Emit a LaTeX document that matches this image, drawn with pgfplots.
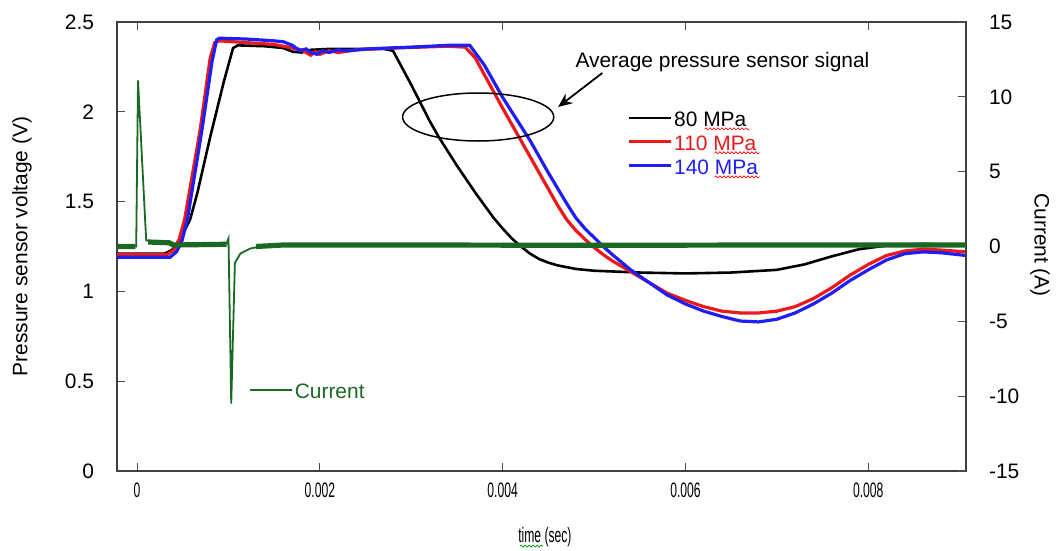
\documentclass[border=0pt]{standalone}
\usepackage{fontspec}
\setmainfont{Liberation Sans}
\usepackage{graphicx}
\usepackage{pgfplots}
\pgfplotsset{compat=1.18}
\usetikzlibrary{arrows.meta,decorations.pathmorphing}
\definecolor{cgreen}{RGB}{25,105,35}
\definecolor{pred}{RGB}{235,25,25}
\definecolor{pblue}{RGB}{30,30,245}

\pgfplotstableread{
t V
-0.00022 1.21
0.00030 1.21
0.00038 1.23
0.00045 1.27
0.00050 1.32
0.00058 1.40
0.00066 1.55
0.00080 1.86
0.00095 2.17
0.00105 2.355
0.00110 2.37
0.00140 2.365
0.00160 2.355
0.00170 2.335
0.00180 2.330
0.00190 2.345
0.00210 2.350
0.00250 2.350
0.00270 2.350
0.00280 2.34
0.00300 2.15
0.00310 2.05
0.00320 1.95
0.00330 1.86
0.00350 1.70
0.00370 1.55
0.00390 1.41
0.00400 1.35
0.00410 1.295
0.00420 1.25
0.00430 1.21
0.00440 1.18
0.00450 1.16
0.00460 1.145
0.00480 1.125
0.00500 1.115
0.00550 1.105
0.00600 1.10
0.00650 1.105
0.00700 1.12
0.00730 1.15
0.00760 1.195
0.00790 1.235
0.00820 1.255
0.00860 1.265
0.00907 1.255
}\blackdata

\pgfplotstableread{
t V
-0.00022 1.205
0.00033 1.205
0.00040 1.23
0.00046 1.29
0.00052 1.40
0.00069 1.90
0.00080 2.30
0.00085 2.385
0.00090 2.395
0.00120 2.385
0.00150 2.375
0.00170 2.355
0.00180 2.345
0.00190 2.315
0.00195 2.335
0.00200 2.320
0.00210 2.340
0.00220 2.330
0.00240 2.345
0.00280 2.355
0.00340 2.365
0.00359 2.36
0.00370 2.30
0.00400 2.02
0.00430 1.75
0.00450 1.57
0.00460 1.48
0.00470 1.40
0.00480 1.34
0.00490 1.29
0.00500 1.245
0.00510 1.205
0.00520 1.17
0.00540 1.11
0.00560 1.05
0.00580 0.99
0.00600 0.95
0.00620 0.915
0.00640 0.89
0.00660 0.88
0.00680 0.88
0.00700 0.89
0.00720 0.915
0.00740 0.96
0.00760 1.02
0.00780 1.09
0.00800 1.15
0.00820 1.20
0.00840 1.225
0.00860 1.235
0.00880 1.23
0.00907 1.22
}\reddata

\pgfplotstableread{
t V
-0.00022 1.19
0.00036 1.19
0.00043 1.22
0.00049 1.28
0.00055 1.40
0.00071 1.90
0.00082 2.28
0.00087 2.40
0.00090 2.41
0.00120 2.405
0.00150 2.395
0.00160 2.39
0.00170 2.37
0.00178 2.34
0.00185 2.35
0.00190 2.33
0.00197 2.32
0.00203 2.34
0.00210 2.33
0.00220 2.345
0.00230 2.34
0.00252 2.35
0.00300 2.36
0.00340 2.37
0.00364 2.37
0.00380 2.26
0.00400 2.08
0.00430 1.84
0.00450 1.66
0.00470 1.49
0.00480 1.41
0.00490 1.35
0.00500 1.30
0.00510 1.25
0.00520 1.205
0.00540 1.12
0.00560 1.05
0.00580 0.98
0.00600 0.93
0.00620 0.89
0.00640 0.86
0.00660 0.835
0.00680 0.83
0.00700 0.845
0.00720 0.88
0.00740 0.93
0.00760 0.99
0.00780 1.06
0.00800 1.12
0.00820 1.175
0.00840 1.21
0.00860 1.22
0.00880 1.215
0.00907 1.20
}\bluedata

\pgfplotstableread{
t I
-0.00022 0.0
-0.00001 0.0
0.00001 11.1
0.000088 1.74
0.00010 0.4
0.00035 0.3
0.00040 0.1
0.00098 0.2
0.00100 0.53
0.00103 -10.5
0.00107 -1.1
0.00113 -0.47
0.00124 -0.13
0.00140 0.05
0.00160 0.1
0.00907 0.1
}\currentdata

\pgfplotstableread{
t I
-0.00022 0.0
-0.00002 0.0
nan nan
0.00012 0.3
0.00035 0.25
0.00040 0.1
0.00098 0.15
nan nan
0.00130 0.0
0.00160 0.1
0.00300 0.1
0.00500 0.08
0.00700 0.1
0.00907 0.1
}\currentband

\begin{document}
\begin{tikzpicture}[font=\fontsize{10.5}{12}\selectfont]
\useasboundingbox (-58.5bp,-40bp) rectangle (470bp,235.5bp);
\pgfplotsset{
  common/.style={
    scale only axis, width=424.5bp, height=224.5bp,
    at={(0,0)}, anchor=south west,
    xmin=-0.00022, xmax=0.00907,
    tick align=inside, major tick length=4bp,
    axis line style={line width=0.9bp, black!75},
    every tick/.style={line width=0.6bp, black!70},
    /pgf/number format/assume math mode=true,
    tick label style={font=\fontsize{10.5}{12}\selectfont},
    legend style={draw=none, fill=none, inner sep=0pt, outer sep=0pt,
      row sep=0pt, font=\fontsize{10.5}{12}\selectfont,
      nodes={inner xsep=1bp, inner ysep=1bp, text height=7.6bp, text depth=2.4bp, anchor=west}},
    legend cell align=left,
    legend image code/.code={\draw[#1] (0bp,1.6bp) -- (21bp,1.6bp);},
  }
}
\begin{axis}[common, clip=false,
  ymin=0, ymax=2.5,
  ytick={0,0.5,1,1.5,2,2.5},
  yticklabels={0,0.5,1,1.5,2,2.5},
  ytick pos=left,
  xtick={0,0.002,0.004,0.006,0.008},
  xticklabels={\scalebox{0.58}[1]{0},\scalebox{0.58}[1]{0.002},\scalebox{0.58}[1]{0.004},\scalebox{0.58}[1]{0.006},\scalebox{0.58}[1]{0.008}},
  xtick pos=both, xticklabel pos=lower,
  scaled x ticks=false,
  yticklabel style={xshift=-8bp},
  xticklabel style={yshift=-2.5bp},
  xlabel={\scalebox{0.58}[1]{time (sec)}},
  xlabel style={at={(axis description cs:0.504,-0.147)}, anchor=center},
  ylabel={Pressure sensor voltage (V)},
  ylabel style={at={(axis description cs:-0.1119,0.5)}, anchor=center},
  legend style={at={(axis description cs:0.6007,0.726)}, anchor=west},
]
\addplot[black, line width=1.3bp] table[x=t,y=V] {\blackdata};
\addlegendentry{80 MPa}
\addplot[pred, line width=1.6bp] table[x=t,y=V] {\reddata};
\addlegendentry{\textcolor{pred}{110 MPa}}
\addplot[pblue, line width=1.6bp] table[x=t,y=V] {\bluedata};
\addlegendentry{\textcolor{pblue}{140 MPa}}
\draw[black, line width=0.75bp] (axis cs:0.003732,1.971) ellipse [x radius=37.8bp, y radius=12bp];
\draw[black, line width=0.9bp, -{Stealth[length=7bp,width=6bp]}] (axis cs:0.00509,2.216) -- (axis cs:0.004607,2.027);
\node[anchor=west, inner sep=0pt] at (axis cs:0.004793,2.277) {Average pressure sensor signal};
\draw[green!60!black, line width=0.35bp, decorate, decoration={snake, amplitude=0.5bp, segment length=2bp}] (axis cs:0.00419,-0.418) -- (axis cs:0.00444,-0.418);
\draw[red, line width=0.35bp, decorate, decoration={snake, amplitude=0.5bp, segment length=2bp}] (axis cs:0.006210,1.905) -- (axis cs:0.006700,1.905);
\draw[red, line width=0.35bp, decorate, decoration={snake, amplitude=0.5bp, segment length=2bp}] (axis cs:0.006320,1.772) -- (axis cs:0.006810,1.772);
\draw[red, line width=0.35bp, decorate, decoration={snake, amplitude=0.5bp, segment length=2bp}] (axis cs:0.006320,1.638) -- (axis cs:0.006810,1.638);
\end{axis}
\begin{axis}[common,
  axis x line=none, axis y line*=right,
  ymin=-15, ymax=15,
  ytick={-15,-10,-5,0,5,10,15},
  yticklabels={-15,-10,-5,0,5,10,15},
  yticklabel style={xshift=8bp},
  ylabel={Current (A)},
  ylabel style={at={(axis description cs:1.0872,0.503)}, anchor=center, rotate=180},
  legend style={at={(axis description cs:0.1555,0.1737)}, anchor=west},
  unbounded coords=jump,
]
\addplot[cgreen, line width=0.9bp] table[x=t,y=I] {\currentdata};
\addlegendentry{\textcolor{cgreen}{Current}}
\addplot[cgreen, line width=2.6bp, forget plot] table[x=t,y=I] {\currentband};
\end{axis}
\end{tikzpicture}
\end{document}
